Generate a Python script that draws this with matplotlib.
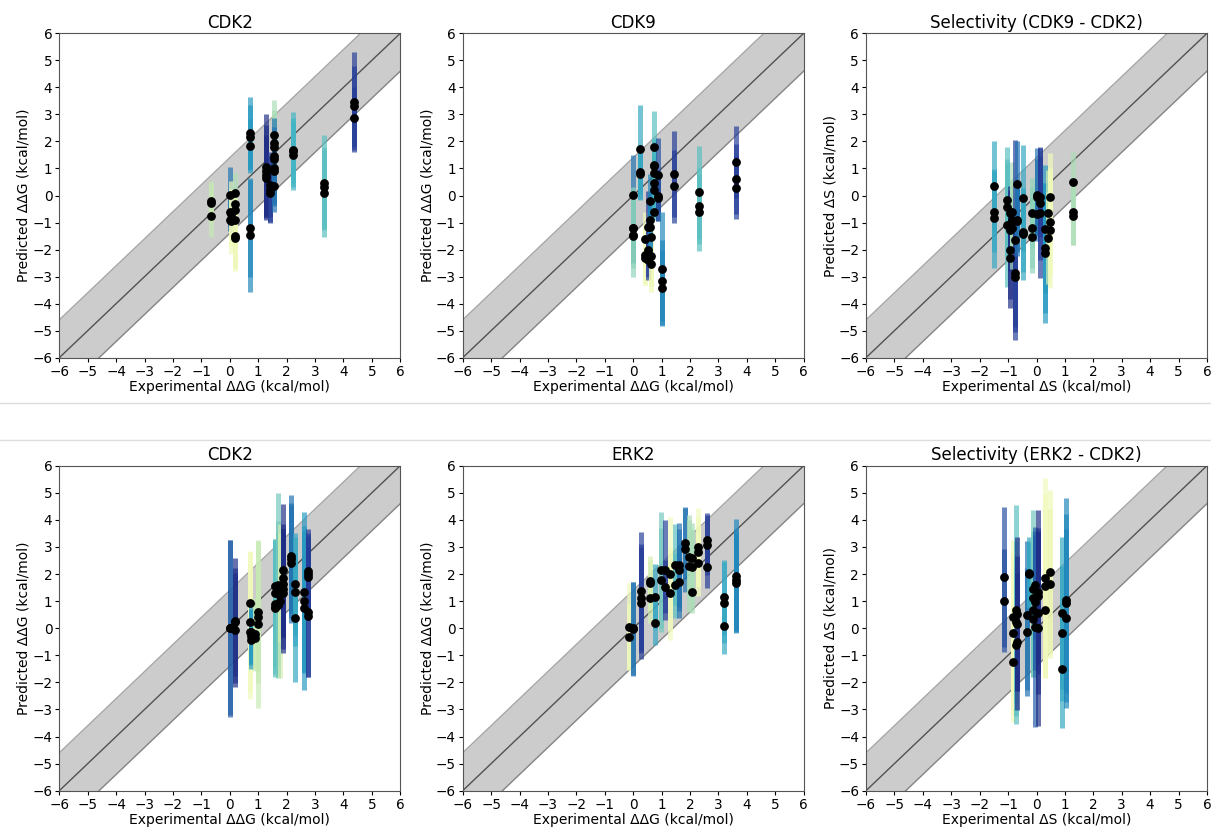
import matplotlib
matplotlib.use("Agg")
import matplotlib.pyplot as plt
from matplotlib.lines import Line2D
import numpy as np

# ---------------- data ----------------
# Panel 1: CDK2 (top)
cdk2a_x = [-0.65, 0.0, 0.05, 0.17, 0.2, 0.72, 0.72, 1.27, 1.42, 1.57, 1.57, 2.23, 3.33, 4.38]
cdk2a_y = [[-0.22, -0.28, -0.75], [0.02, -0.62, -0.92], [-0.68, -0.95], [0.08, -0.3, -0.55],
           [-0.92, -1.48, -1.57], [2.32, 2.15, 1.82], [-1.22, -1.47], [1.05, 0.9, 0.75, 0.65],
           [0.4, 0.22, 0.08], [2.25, 1.95, 1.8], [1.45, 1.35, 1.0, 0.9, 0.35], [1.7, 1.65, 1.48],
           [0.48, 0.3, 0.08], [3.45, 3.3, 2.85]]
cdk2a_err = [[0.77, 0.7, 0.8], [1.03, 0.5, 0.4], [1.2, 1.2], [0.77, 0.6, 0.6],
             [1.0, 1.2, 1.23], [1.33, 1.2, 1.0], [1.8, 2.1], [1.95, 1.7, 1.5, 1.5],
             [1.2, 1.2, 1.08], [1.3, 1.2, 1.0], [1.4, 1.2, 1.3, 1.3, 0.95], [1.4, 1.2, 1.28],
             [1.75, 1.5, 1.62], [1.85, 1.5, 1.17]]
cdk2a_shade = [0.25, 0.7, 0.1, 0.3, 0.12, 0.6, 0.65, 0.9, 0.85, 0.3, 0.7, 0.5, 0.45, 0.85]

# Panel 2: CDK9
cdk9_x = [0.0, 0.0, 0.24, 0.42, 0.52, 0.62, 0.6, 0.72, 0.74, 0.88, 1.0, 1.42, 2.3, 3.63]
cdk9_y = [[0.02, -1.19, -1.47], [-1.2, -1.5], [1.71, 0.86, 0.78], [-1.62, -2.2, -2.32],
          [-1.15, -2.0, -2.4], [-1.53, -2.23, -2.52], [-0.22, -0.92, -1.18], [1.81, 1.13, 1.08],
          [0.82, 0.45, 0.2, -0.62], [0.76, 0.0, -0.08], [-2.72, -3.16, -3.41], [0.8, 0.35],
          [0.12, -0.38, -0.62], [1.25, 0.61, 0.29]]
cdk9_err = [[1.48, 1.3, 1.0], [1.5, 1.5], [1.64, 1.0, 0.95], [1.0, 1.1, 0.98],
            [1.3, 1.0, 0.72], [1.0, 1.1, 1.04], [1.0, 1.0, 1.0], [1.3, 1.0, 1.0],
            [1.2, 1.0, 1.0, 0.3], [1.36, 0.95, 0.86], [2.1, 1.5, 1.38], [1.6, 1.35],
            [1.72, 1.4, 1.43], [1.33, 1.3, 1.17]]
cdk9_shade = [0.7, 0.35, 0.55, 0.1, 0.85, 0.12, 0.65, 0.45, 0.5, 0.8, 0.65, 0.85, 0.45, 0.85]

# Panel 3: Selectivity (CDK9 - CDK2)
sel9_x = [-1.49, -1.05, -0.92, -0.85, -0.76, -0.67, -0.46, -0.16, 0.02, 0.14, 0.3, 0.42, 0.48, 1.28]
sel9_y = [[0.36, -0.6, -0.85], [-0.17, -0.44, -1.09], [-0.66, -1.28, -2.02, -2.33],
          [-0.6, -0.9, -1.21], [-1.65, -2.88, -3.0], [0.41, -0.9, -0.95], [-0.1, -1.34, -1.42],
          [-0.66, -1.19, -1.52], [0.02, -0.05, -0.7], [-0.29, -0.66, -0.05], [-1.24, -1.93, -2.14],
          [-0.66, -1.56], [-0.07, -0.97, -1.28], [0.51, -0.6, -0.76]]
sel9_err = [[1.66, 1.5, 1.82], [1.97, 1.8, 2.28], [1.0, 1.5, 1.8, 1.84],
            [1.85, 1.5, 1.5], [3.7, 2.0, 2.04], [1.6, 1.2, 1.3], [1.95, 1.5, 1.71],
            [1.3, 1.5, 1.36], [1.72, 1.4, 0.76], [2.09, 2.41, 1.5], [2.37, 2.4, 2.59],
            [1.6, 1.7], [1.63, 2.0, 2.15], [1.11, 1.23, 1.07]]
sel9_shade = [0.55, 0.45, 0.9, 0.3, 0.85, 0.7, 0.55, 0.35, 0.7, 0.85, 0.6, 0.2, 0.1, 0.3]

# Panel 4: CDK2 (bottom)
cdk2b_x = [0.0, 0.2, 0.7, 0.75, 0.9, 1.0, 1.58, 1.7, 1.75, 1.88, 2.15, 2.3, 2.6, 2.75]
cdk2b_y = [[0.02, 0.0], [0.28, 0.22, -0.07], [0.92, 0.24, -0.13], [-0.15, -0.42, -0.3],
           [-0.2, -0.38], [0.6, 0.42, 0.14], [1.55, 1.3, 0.9, 0.8, 0.75], [1.6, 1.25, 0.85],
           [1.5, 1.0], [2.15, 1.85, 1.65, 1.45, 1.3], [2.65, 2.55, 2.4], [1.62, 1.35, 0.38],
           [1.32, 1.0, 0.75], [2.1, 2.0, 1.9, 0.6, 0.45]]
cdk2b_err = [[3.24, 3.27], [2.3, 2.0, 2.09], [1.9, 2.6, 2.5], [1.2, 1.1, 1.0],
             [1.3, 1.2], [2.63, 2.0, 3.1], [1.7, 1.5, 2.3, 2.5, 2.55], [3.38, 2.7, 2.7],
             [2.0, 2.85], [2.43, 2.0, 2.0, 2.2, 2.2], [2.27, 2.0, 2.22], [1.88, 2.0, 2.36],
             [2.96, 2.6, 3.03], [1.56, 1.5, 1.5, 2.39, 2.24]]
cdk2b_shade = [0.75, 0.9, 0.1, 0.6, 0.25, 0.25, 0.45, 0.4, 0.2, 0.9, 0.7, 0.55, 0.6, 0.85]

# Panel 5: ERK2
erk2_x = [-0.15, 0.01, 0.28, 0.6, 0.77, 0.99, 1.13, 1.3, 1.46, 1.6, 1.81, 1.95, 2.07, 2.28, 2.6, 3.18, 3.62]
erk2_y = [[0.06, -0.31], [-0.03, 0.0], [1.37, 1.1, 0.92], [1.74, 1.66, 1.1], [1.16, 0.2],
          [2.15, 1.78], [2.15, 1.53], [2.0, 1.29], [2.35, 1.59], [2.33, 2.15, 1.72],
          [3.13, 2.92], [2.64, 2.3], [2.58, 2.27, 1.35], [3.0, 2.82, 2.39], [3.26, 3.07, 2.27],
          [1.14, 0.94, 0.08], [1.93, 1.78, 1.68]]
erk2_err = [[1.6, 1.24], [1.75, 1.72], [2.19, 2.0, 2.07], [0.78, 1.0, 0.9], [1.2, 0.82],
            [2.15, 1.91], [1.85, 0.98], [2.1, 1.72], [1.5, 1.2], [1.54, 1.5, 1.36],
            [1.32, 1.57], [1.54, 1.7], [1.3, 1.4, 0.78], [1.42, 1.3, 1.2], [0.98, 1.1, 0.8],
            [1.38, 1.5, 1.03], [2.09, 1.9, 1.83]]
erk2_shade = [0.1, 0.7, 0.85, 0.2, 0.55, 0.4, 0.85, 0.1, 0.45, 0.7, 0.7, 0.3, 0.3, 0.1, 0.85, 0.55, 0.65]

# Panel 6: Selectivity (ERK2 - CDK2)
sel2_x = [-1.13, -0.82, -0.73, -0.68, -0.34, -0.26, -0.14, -0.05, 0.05, 0.3, 0.46, 0.89, 1.05]
sel2_y = [[1.9, 1.02], [0.42, -0.17, -1.24], [0.66, 0.23, -0.62], [0.53, 0.17, -0.5],
          [0.47, -0.13], [2.05, 2.0], [1.43, 1.1, 0.67, 0.34], [1.6, 0.95, 0.05],
          [1.33, 1.2, 0.57, 0.0], [1.86, 1.56, 0.67], [2.08, 1.65], [0.57, -0.19, -1.52],
          [1.04, 0.92, 0.36]]
sel2_err = [[2.59, 1.89], [2.84, 3.0, 2.21], [3.89, 3.0, 2.92], [2.85, 2.5, 2.52],
            [2.75, 2.37], [1.3, 1.2], [2.93, 2.5, 2.47, 2.14], [2.0, 2.5, 3.68],
            [3.03, 2.5, 3.0, 3.6], [3.67, 3.41, 2.52], [3.02, 2.76], [2.81, 2.5, 2.15],
            [3.75, 3.3, 3.32]]
sel2_shade = [0.8, 0.1, 0.45, 0.9, 0.7, 0.55, 0.4, 0.75, 0.9, 0.1, 0.12, 0.55, 0.65]

titles = ["CDK2", "CDK9", "Selectivity (CDK9 - CDK2)",
          "CDK2", "ERK2", "Selectivity (ERK2 - CDK2)"]
xlabels = ["Experimental ΔΔG (kcal/mol)", "Experimental ΔΔG (kcal/mol)", "Experimental ΔS (kcal/mol)",
           "Experimental ΔΔG (kcal/mol)", "Experimental ΔΔG (kcal/mol)", "Experimental ΔS (kcal/mol)"]
ylabels = ["Predicted ΔΔG (kcal/mol)", "Predicted ΔΔG (kcal/mol)", "Predicted ΔS (kcal/mol)",
           "Predicted ΔΔG (kcal/mol)", "Predicted ΔΔG (kcal/mol)", "Predicted ΔS (kcal/mol)"]
band = 1.4
lims = [-6, 6]

panels = [(cdk2a_x, cdk2a_y, cdk2a_err, cdk2a_shade),
          (cdk9_x, cdk9_y, cdk9_err, cdk9_shade),
          (sel9_x, sel9_y, sel9_err, sel9_shade),
          (cdk2b_x, cdk2b_y, cdk2b_err, cdk2b_shade),
          (erk2_x, erk2_y, erk2_err, erk2_shade),
          (sel2_x, sel2_y, sel2_err, sel2_shade)]

# ---------------- figure ----------------
W, H = 1211, 830
fig = plt.figure(figsize=(W / 100, H / 100), dpi=100)
cmap = plt.get_cmap("YlGnBu")

lefts = [59.3, 462.7, 866.0]
aw = 341.0
rows = [(33.3, 357.7), (465.7, 790.7)]

for i, (px, py, pe, ps) in enumerate(panels):
    r, c = divmod(i, 3)
    top, bot = rows[r]
    ax = fig.add_axes([lefts[c] / W, 1 - bot / H, aw / W, (bot - top) / H])
    xx = np.array(lims, dtype=float)
    ax.fill_between(xx, xx - band, xx + band, color="k", alpha=0.2, lw=0, zorder=1)
    ax.plot(xx, xx - band, color="k", alpha=0.35, lw=1, zorder=1)
    ax.plot(xx, xx + band, color="k", alpha=0.35, lw=1, zorder=1)
    ax.plot(xx, xx, color="k", alpha=0.6, lw=1, zorder=2)
    for x, ys, es, s in zip(px, py, pe, ps):
        col = cmap(s)
        for y, e in zip(ys, es):
            ax.errorbar([x], [y], yerr=[e], fmt="none", ecolor=col, elinewidth=3.6,
                        alpha=0.68, capsize=0, zorder=3)
    for x, ys in zip(px, py):
        ax.plot([x] * len(ys), ys, "o", color="k", ms=5.3, zorder=5)
    ax.set_xlim(lims)
    ax.set_ylim(lims)
    ax.set_xticks(range(-6, 7))
    ax.set_yticks(range(-6, 7))
    ax.tick_params(labelsize=9.8, length=3, pad=2)
    ax.set_title(titles[i], fontsize=12, pad=4)
    ax.set_xlabel(xlabels[i], fontsize=10, labelpad=1)
    ax.set_ylabel(ylabels[i], fontsize=10, labelpad=1)
    for sp in ax.spines.values():
        sp.set_color("#555555")

for yy in (403, 440):
    fig.add_artist(Line2D([0, 1], [1 - yy / H, 1 - yy / H], color="#dddddd", lw=1,
                          transform=fig.transFigure))

fig.savefig("out.png", dpi=100)
